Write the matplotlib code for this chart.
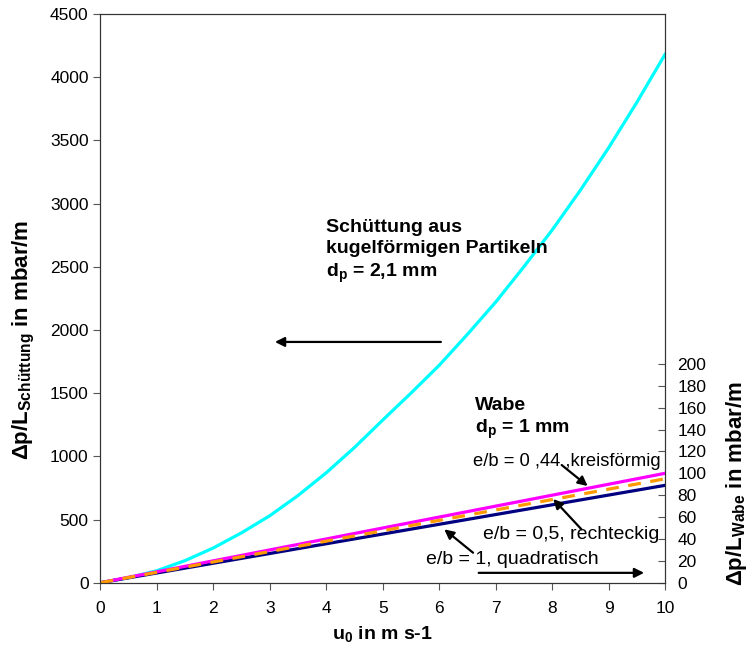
import matplotlib.pyplot as plt
import numpy as np

plt.rcParams['font.family'] = ['Liberation Sans', 'DejaVu Sans']
plt.rcParams['mathtext.fontset'] = 'custom'
plt.rcParams['mathtext.rm'] = 'Liberation Sans'
plt.rcParams['mathtext.bf'] = 'Liberation Sans:bold'
plt.rcParams['mathtext.it'] = 'Liberation Sans:italic'

# Leerrohrgeschwindigkeit u0 in m/s
u0 = [0, 0.5, 1, 1.5, 2, 2.5, 3, 3.5, 4, 4.5, 5, 5.5, 6, 6.5, 7, 7.5, 8, 8.5, 9, 9.5, 10]
# Schuettung (linke Achse, mbar/m)
schuettung = [0, 40, 95, 175, 275, 395, 530, 690, 870, 1070, 1287, 1500, 1720,
              1965, 2220, 2500, 2790, 3105, 3440, 3800, 4180]
# Wabe (rechte Achse, mbar/m)
u_wabe = [0, 1, 2, 3, 4, 5, 6, 7, 8, 9, 10]
wabe_kreis = [0, 10, 20, 30, 40, 50, 60, 70, 80, 90, 100]
wabe_rechteck = [0, 9.5, 19, 28.5, 38, 47.5, 57, 66.5, 76, 85.5, 95]
wabe_quadrat = [0, 8.9, 17.8, 26.7, 35.6, 44.5, 53.4, 62.3, 71.2, 80.1, 89]

fig = plt.figure(figsize=(7.52, 6.57), dpi=100)
ax = fig.add_axes([0.1336, 0.1131, 0.7507, 0.8656])
ax2 = ax.twinx()

ax.plot(u0, schuettung, color='#00FFFF', lw=2.3)
ax2.plot(u_wabe, wabe_quadrat, color='#000080', lw=2.3)
ax2.plot(u_wabe, wabe_kreis, color='#FF00FF', lw=2.3)
ax2.plot(u_wabe, wabe_rechteck, color='#FF9900', lw=2.3, ls=(0, (4, 3)))

ax.set_xlim(0, 10)
ax.set_ylim(0, 4500)
ax.set_xticks(range(0, 11))
ax.set_yticks(range(0, 4501, 500))
ax2.set_ylim(0, 520)
ax2.set_yticks(range(0, 201, 20))

ax.tick_params(axis='both', direction='out', labelsize=12.5, length=5, color='#555555')
ax.tick_params(axis='x', pad=8)
ax2.tick_params(axis='y', direction='in', labelsize=12.5, length=5, color='#555555', pad=9)
for s in ax.spines.values():
    s.set_color('#333333')
for s in ax2.spines.values():
    s.set_color('#333333')

ax.set_xlabel(r'$\mathbf{u_0}$ in m s-1', fontsize=14, fontweight='bold', labelpad=6)
ax.set_ylabel(r'$\mathbf{\Delta p/L_{Schüttung}}$ in mbar/m', fontsize=16, fontweight='bold')
ax.yaxis.set_label_coords(-0.112, 0.427)
ax2.set_ylabel(r'$\mathbf{\Delta p/L_{Wabe}}$ in mbar/m', fontsize=16, fontweight='bold')
ax2.yaxis.set_label_coords(1.104, 0.175)

ax.text(4.0, 2615, 'Schüttung aus\nkugelförmigen Partikeln\n$\\mathbf{d_p}$ = 2,1 mm',
        fontsize=14, fontweight='bold', va='center', ha='left', linespacing=1.3)
ax2.text(6.63, 149.7, 'Wabe\n$\\mathbf{d_p}$ = 1 mm', fontsize=14, fontweight='bold',
         va='center', ha='left', linespacing=1.3)
ax2.text(6.60, 110.4, 'e/b = 0 ,44 ,kreisförmig', fontsize=13.2, va='center', ha='left')
ax2.text(6.77, 44.5, 'e/b = 0,5, rechteckig', fontsize=14, va='center', ha='left')
ax2.text(5.77, 20.8, 'e/b = 1, quadratisch', fontsize=14, va='center', ha='left')

arrow = dict(arrowstyle='-|>', color='black', lw=1.6, mutation_scale=14, shrinkA=0, shrinkB=0)
ax.annotate('', xy=(3.09, 1905), xytext=(6.03, 1905), arrowprops=arrow)
ax2.annotate('', xy=(9.63, 9), xytext=(6.70, 9), arrowprops=arrow)
ax2.annotate('', xy=(8.63, 88.4), xytext=(8.17, 107.6), arrowprops=arrow)
ax2.annotate('', xy=(8.02, 76.5), xytext=(8.52, 48.8), arrowprops=arrow)
ax2.annotate('', xy=(6.09, 48.8), xytext=(6.60, 27.4), arrowprops=arrow)

fig.savefig('out.png', dpi=100)
